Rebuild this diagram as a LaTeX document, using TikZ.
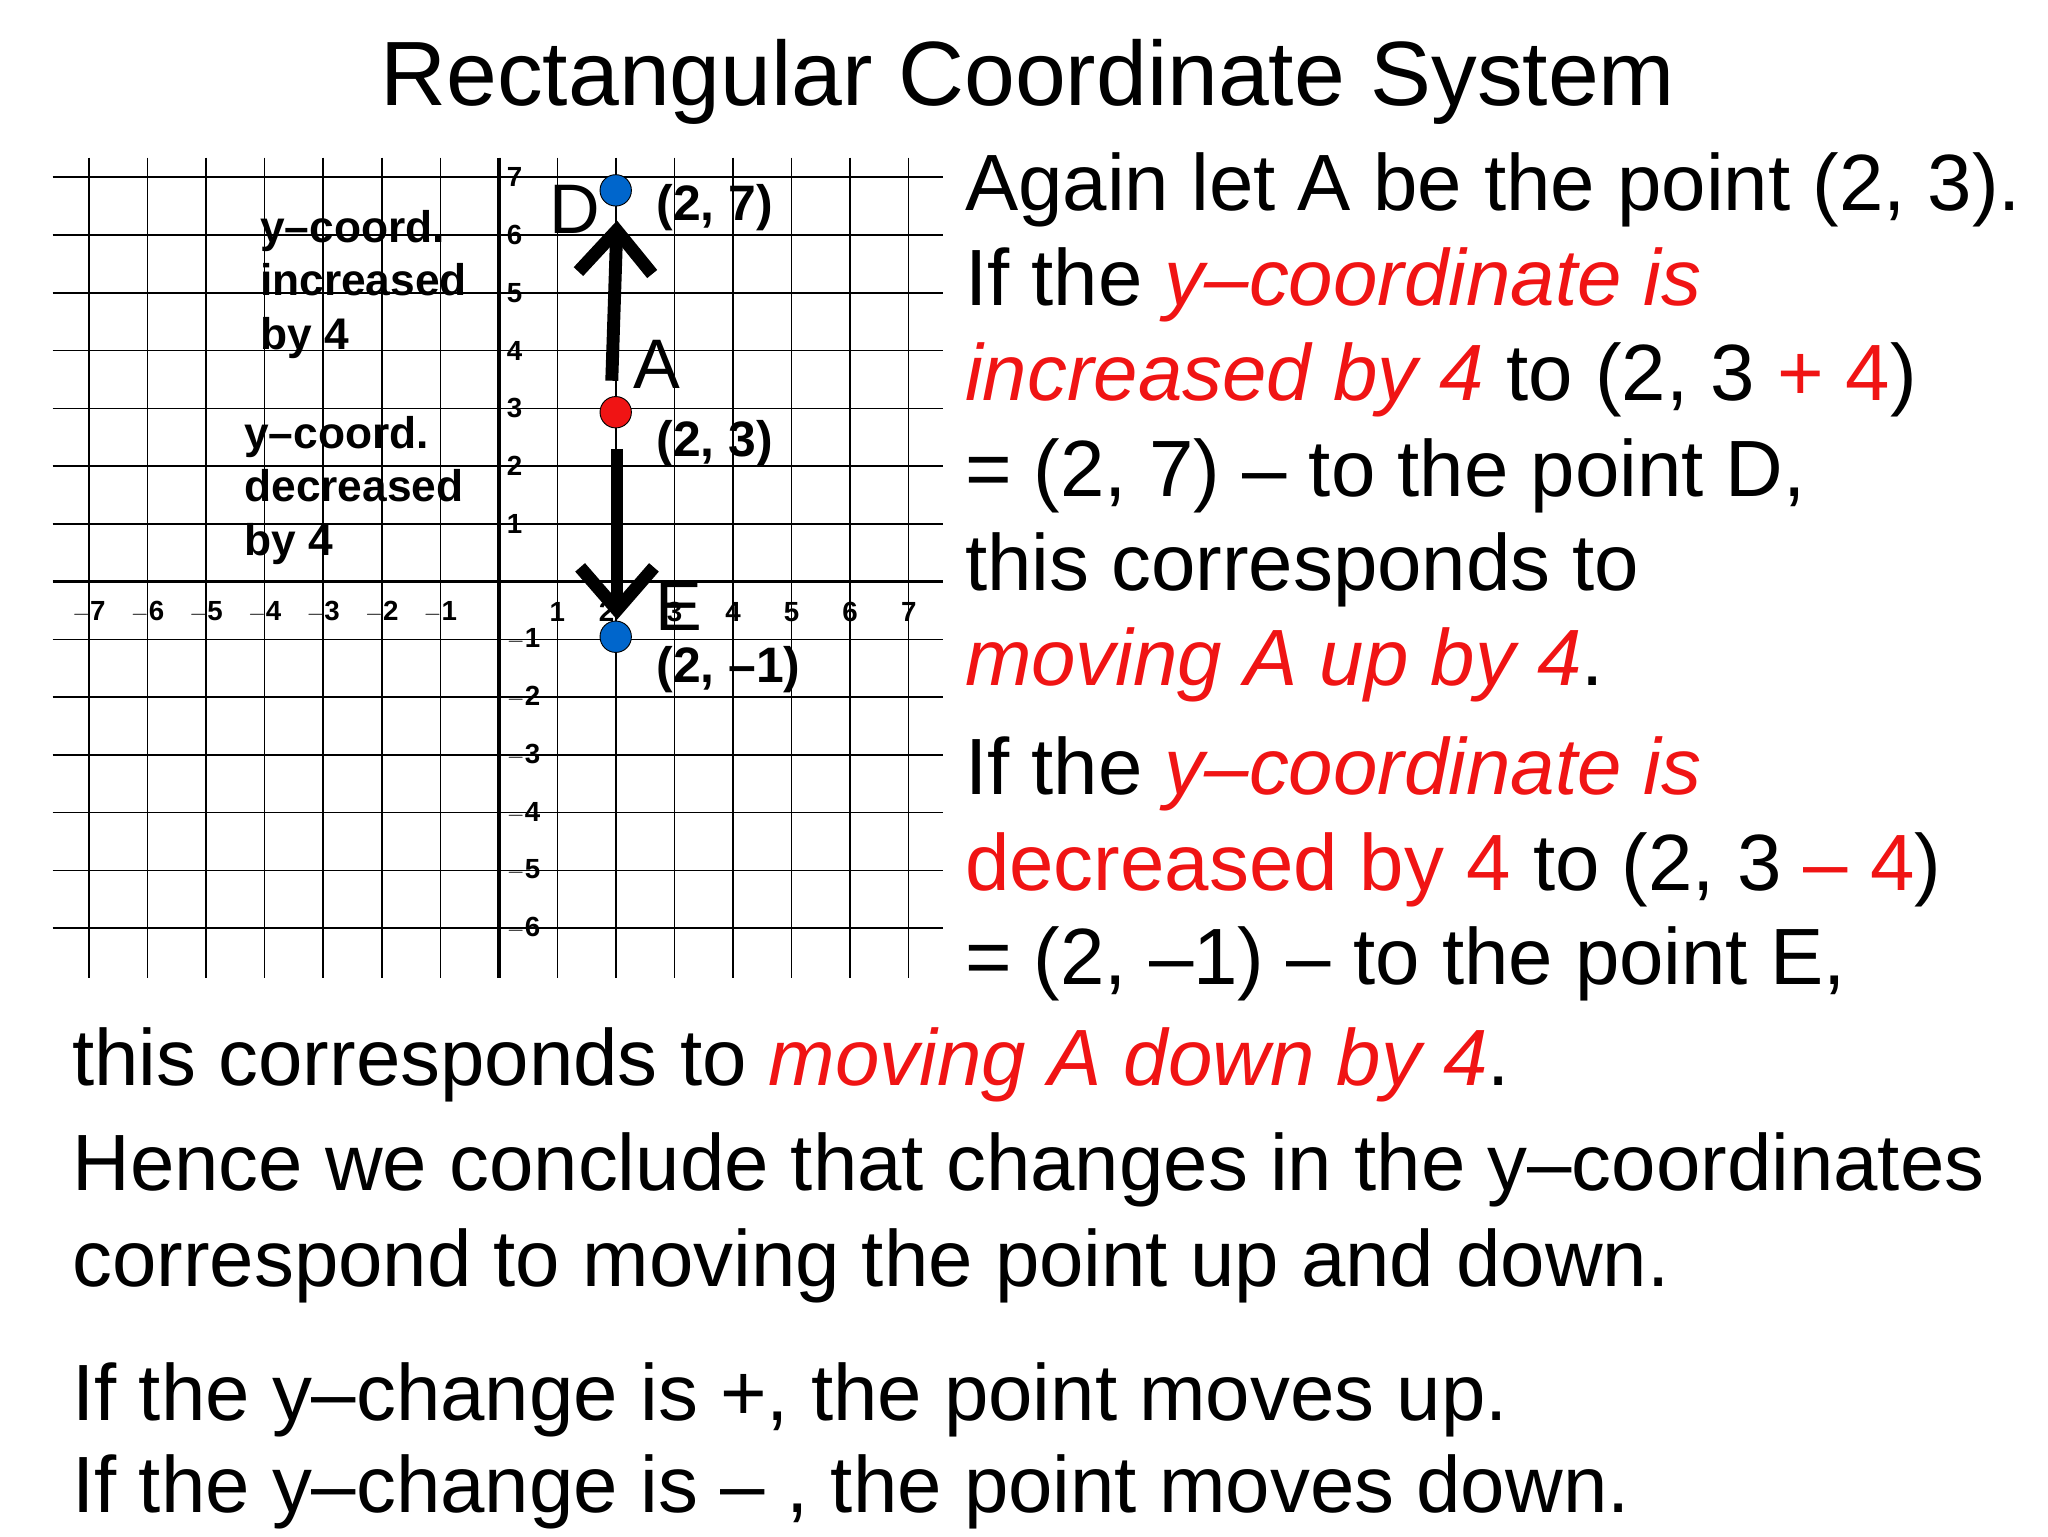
\documentclass[tikz,border=0pt]{standalone}
\usepackage{fontspec}
\setmainfont{Liberation Sans}
\usetikzlibrary{arrows.meta}
\definecolor{rd}{RGB}{240,20,20}
\definecolor{bl}{RGB}{0,102,204}
\begin{document}
\begin{tikzpicture}[x=0.05cm,y=-0.05cm,
  body/.style={anchor=base west,inner sep=0,font=\fontsize{86.5}{90}\selectfont},
  small/.style={anchor=north west,inner sep=0,font=\fontsize{48}{58}\bfseries\selectfont,align=left},
  lab/.style={anchor=base west,inner sep=0,font=\fontsize{54}{56}\bfseries\selectfont},
  pt/.style={anchor=base,inner sep=0,font=\fontsize{76}{76}\selectfont},
  num/.style={inner sep=0,font=\fontsize{30}{30}\bfseries\selectfont},
  dot/.style={circle,draw=black,line width=1pt,minimum size=34,inner sep=0},
  mv/.style={line width=14pt,-{Straight Barb[length=46pt,width=80pt,line width=14pt]}}]
\useasboundingbox (0,0) rectangle (1560,1170);
% grid
\foreach \i in {-7,...,7} {\draw[line width=1.6pt] (380+\i*44.6,120) -- (380+\i*44.6,745);}
\foreach \j in {-6,...,7} {\draw[line width=1.6pt] (40,443-\j*44) -- (718,443-\j*44);}
\draw[line width=4pt] (40,443) -- (718,443);
\draw[line width=4pt] (380,120) -- (380,745);
\foreach \i in {-7,...,-1,1,3,4,5,6,7} {\node[num] at (380+\i*44.6,466) {$\mathbf{\i}$};}
\node[num] at (462,466) {$\mathbf{2}$};
\foreach \j in {-6,...,-1,1,2,...,7} {\node[num,anchor=west] at (386,443-\j*44) {$\mathbf{\j}$};}
% title
\node[anchor=base,inner sep=0,font=\fontsize{99}{100}\selectfont] (title) at (783,80) {Rectangular Coordinate System};
% side labels
\node[small] (inc) at (198,160) {y–coord.\\increased\\by 4};
\node[small] (dec) at (186,317) {y–coord.\\decreased\\by 4};
% points
\node[dot,fill=bl] (D) at (469,145) {};
\node[dot,fill=rd] (A) at (469,314) {};
\node[dot,fill=bl] (E) at (469,485) {};
\coordinate (a1) at (466,290); \coordinate (d1) at (470,168);
\coordinate (a2) at (470,342); \coordinate (e1) at (470,472);
\draw[mv] (a1) -- (d1);
\draw[mv] (a2) -- (e1);
\node[pt] (Dl) at (438,178) {D};
\node[pt] (Al) at (500,296) {A};
\node[pt] (El) at (517,480) {E};
\node[lab] (Dc) at (500,168) {(2, 7)};
\node[lab] (Ac) at (500,348) {(2, 3)};
\node[lab] (Ec) at (500,520) {(2, –1)};
% text
\node[body] (t1) at (735,160) {Again let A be the point (2, 3).};
\node[body] (t2) at (735,233) {If the \textcolor{rd}{\itshape y–coordinate is}};
\node[body] (t3) at (735,305) {\textcolor{rd}{\itshape increased by 4} to (2, 3 \textcolor{rd}{+ 4})};
\node[body] (t4) at (735,378) {= (2, 7) – to the point D,};
\node[body] (t5) at (735,450) {this corresponds to};
\node[body] (t6) at (735,522) {\textcolor{rd}{\itshape moving A up by 4}.};
\node[body] (t7) at (735,605) {If the \textcolor{rd}{\itshape y–coordinate is}};
\node[body] (t8) at (735,678) {\textcolor{rd}{decreased by 4} to (2, 3 \textcolor{rd}{– 4})};
\node[body] (t9) at (735,750) {= (2, –1) – to the point E,};
\node[body] (t10) at (55,827) {this corresponds to \textcolor{rd}{\itshape moving A down by 4}.};
\node[body] (t11) at (55,907) {Hence we conclude that changes in the y–coordinates};
\node[body] (t12) at (55,980) {correspond to moving the point up and down.};
\node[body] (t13) at (55,1082) {If the y–change is +, the point moves up.};
\node[body] (t14) at (55,1152) {If the y–change is – , the point moves down.};
\end{tikzpicture}
\end{document}
